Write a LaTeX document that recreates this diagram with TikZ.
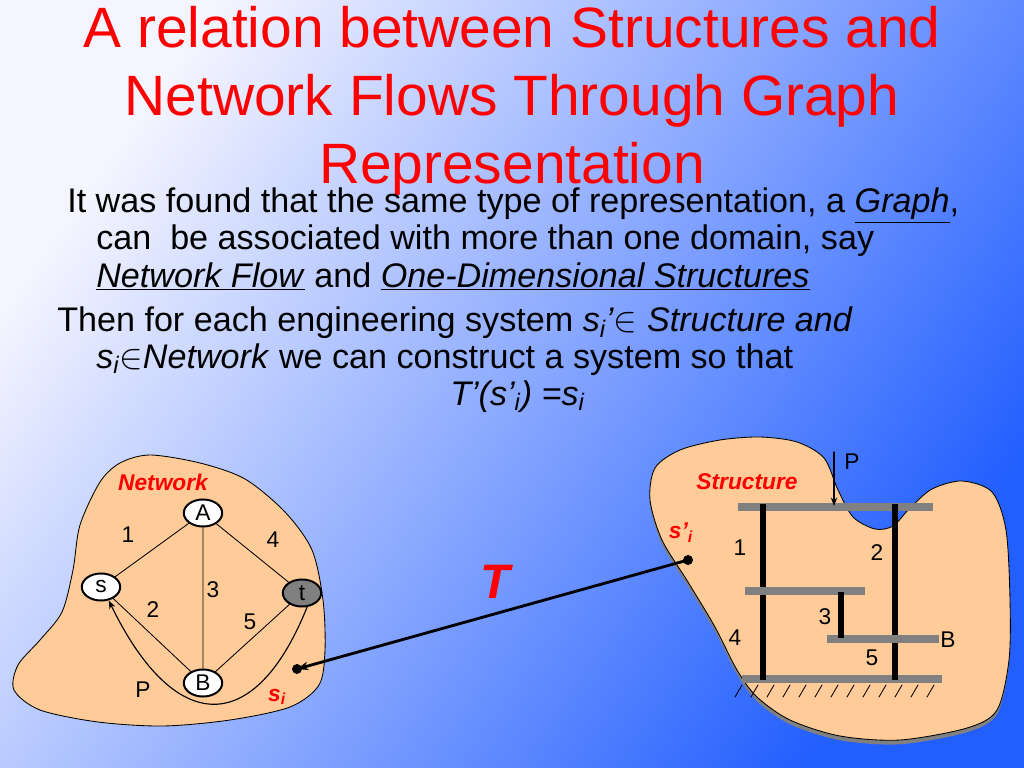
\documentclass[tikz,border=0pt]{standalone}
\usepackage{fontspec}
\setmainfont{Liberation Sans}
\usetikzlibrary{shapes.geometric,arrows.meta}
\definecolor{peach}{RGB}{255,204,153}
\definecolor{slideblue}{RGB}{35,95,255}
\definecolor{slidewhite}{RGB}{245,245,255}
\definecolor{beamgray}{RGB}{128,128,128}
\begin{document}
\begin{tikzpicture}[x=0.703125pt,y=-0.703125pt,>={Stealth[length=6pt,width=4.5pt]},
    line join=round, line cap=round,
    headline/.style={anchor=base,text=red,inner sep=0pt,font=\fontsize{40}{47}\selectfont},
    body/.style={anchor=base west,inner sep=0pt,font=\fontsize{24}{25}\selectfont},
    vertex/.style={ellipse,draw,line width=1.4pt,fill=white,minimum width=27pt,minimum height=19pt,inner sep=0pt,font=\fontsize{16}{16}\selectfont},
    num/.style={inner sep=0pt,font=\fontsize{16}{16}\selectfont},
    tag/.style={text=red,inner sep=0pt,font=\fontsize{16}{16}\selectfont\bfseries\itshape},
    dot/.style={circle,fill,minimum size=7pt,inner sep=0pt},
    beam/.style={beamgray,line width=5pt,line cap=butt},
    member/.style={line width=4pt,line cap=butt}]
    % background
    \shade[top color=slidewhite,bottom color=slideblue,shading angle=55] (0,0) rectangle (1024,768);
    \useasboundingbox (0,0) rectangle (1024,768);
    % title
    \node[headline] (head1) at (512,48) {A relation between Structures and};
    \node[headline] (head2) at (512,116) {Network Flows Through Graph};
    \node[headline] (head3) at (512,184) {Representation};
    % text
    \node[body] (l1) at (67,213) {It was found that the same type of representation, a \underline{\textit{Graph}},};
    \node[body] (l2) at (96,250) {can\ \ be associated with more than one domain, say};
    \node[body] (l3) at (96,287) {\underline{\textit{Network Flow}} and \underline{\textit{One-Dimensional Structures}}};
    \node[body] (l4) at (57,332) {Then for each engineering system \textit{s\textsubscript{i}’}$\in$ \textit{Structure and}};
    \node[body] (l5) at (96,368) {\textit{s\textsubscript{i}}$\in$\textit{Network} we can construct a system so that};
    \node[body] (l6) at (450,405) {\textit{T’(s’\textsubscript{i}) =s\textsubscript{i}}};
    % network
    \draw[fill=peach,line width=0.6pt] plot[smooth cycle] coordinates {(150,455) (200,463) (245,479) (285,512) (312,550) (323,600) (325,650) (319,685) (290,707) (230,720) (163,726) (98,722) (40,710) (14,690) (18,665) (40,640) (62,612) (73,570) (80,525) (100,482) (120,463)};
    \node[tag] (net) at (163,482) {Network};
    \node[vertex] (A) at (203,513) {A};
    \node[vertex] (s) at (101,587) {s};
    \node[vertex,fill=beamgray] (t) at (302,593) {t};
    \node[vertex] (B) at (203,683) {B};
    \draw[line width=0.6pt] (s) -- (A) (A) -- (B) (A) -- (t) (s) -- (B) (B) -- (t);
    \draw[->,line width=0.8pt] (t.-70) .. controls (255,737) and (175,737) .. (s.-60);
    \node[num] (e1) at (128,535) {1};
    \node[num] (e4) at (273,540) {4};
    \node[num] (e3) at (213,590) {3};
    \node[num] (e2) at (153,610) {2};
    \node[num] (e5) at (250,622) {5};
    \node[num] (path) at (143,690) {P};
    \node[tag] (si) at (277,697) {s\textsubscript{i}};
    \node[dot] (netdot) at (297,669) {};
    % structure
    \draw[fill=peach,line width=0.6pt,preaction={fill=beamgray,transform canvas={yshift=-3pt}}] plot[smooth cycle] coordinates {(797,442) (824,458) (838,490) (853,517) (875,529) (893,526) (910,508) (932,489) (962,481) (992,492) (1006,530) (1010,600) (1009,660) (997,710) (967,728) (900,740) (840,736) (790,720) (757,697) (737,670) (715,627) (688,582) (662,540) (650,500) (655,468) (680,450) (720,440) (760,437)};
    \node[tag] (str) at (747,482) {Structure};
    \node[tag] (spi) at (681,533) {s’\textsubscript{i}};
    \draw[beam] (738,507) -- (933,507);
    \draw[beam] (745,591) -- (865,591);
    \draw[beam] (827,639) -- (939,639);
    \draw[beam] (742,679) -- (942,679);
    \draw[member] (763,504) -- (763,587);
    \draw[member] (763,595) -- (763,680);
    \draw[member] (895,504) -- (895,635);
    \draw[member] (895,643) -- (895,680);
    \draw[member] (841,592) -- (841,638);
    \foreach \i in {0,...,12}{
        \draw[line width=0.6pt] ({735+16*\i},697) -- ({742+16*\i},685);
    }
    \coordinate (load) at (834,452);
    \coordinate (loadtip) at (834,506);
    \draw[->,line width=0.8pt] (load) -- (loadtip);
    \node[num] (pload) at (852,462) {P};
    \node[num] (m1) at (740,548) {1};
    \node[num] (m2) at (877,553) {2};
    \node[num] (m3) at (825,617) {3};
    \node[num] (m4) at (735,638) {4};
    \node[num] (m5) at (872,658) {5};
    \node[num] (mB) at (948,640) {B};
    \node[dot] (strdot) at (688,560) {};
    % mapping
    \draw[-{Stealth[length=8pt,width=6pt]},line width=2pt] (strdot.center) -- (netdot.center);
    \node[text=red,inner sep=0pt,font=\fontsize{34}{34}\selectfont\bfseries\itshape] (T) at (495,582) {T};
\end{tikzpicture}
\end{document}
